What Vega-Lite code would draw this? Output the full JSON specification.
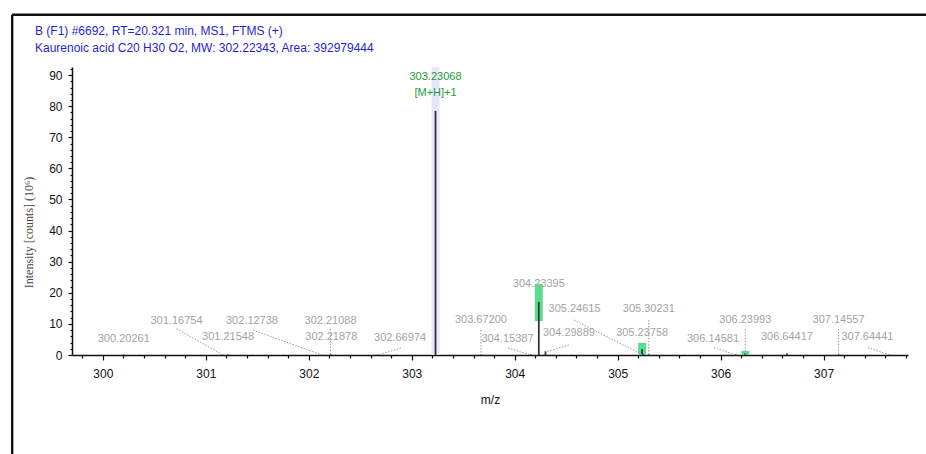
{
  "$schema": "https://vega.github.io/schema/vega-lite/v6.json",
  "width": 836,
  "height": 288,
  "autosize": {"type": "none"},
  "padding": {"left": 72, "top": 67, "right": 18, "bottom": 99},
  "background": "white",
  "title": {
    "text": ["B (F1) #6692, RT=20.321 min, MS1, FTMS (+)", "Kaurenoic acid C20 H30 O2, MW: 302.22343, Area: 392979444"],
    "anchor": "start", "frame": "group", "dx": -37, "offset": -41.5,
    "font": "Liberation Sans", "fontSize": 12, "fontWeight": "normal", "color": "#1f1fd6", "lineHeight": 17
  },
  "config": {"view": {"stroke": null}, "axis": {"grid": false}},
  "datasets": {
    "bands": [
      {"mz": 303.23068, "lo": 0, "hi": 92.6, "kind": "precursor"},
      {"mz": 304.23395, "lo": 10.9, "hi": 22.8, "kind": "isotope"},
      {"mz": 305.23758, "lo": 0, "hi": 3.9, "kind": "isotope"},
      {"mz": 306.23993, "lo": 0, "hi": 1.3, "kind": "isotope"}
    ],
    "peaks": [
      {"mz": 300.20261, "intensity": 0.1},
      {"mz": 301.16754, "intensity": 0.1},
      {"mz": 301.21548, "intensity": 0.15},
      {"mz": 302.12738, "intensity": 0.1},
      {"mz": 302.21088, "intensity": 0.2},
      {"mz": 302.21878, "intensity": 0.1},
      {"mz": 302.66974, "intensity": 0.1},
      {"mz": 303.23068, "intensity": 78.5},
      {"mz": 303.672, "intensity": 0.2},
      {"mz": 304.15387, "intensity": 0.2},
      {"mz": 304.23395, "intensity": 17.1},
      {"mz": 304.29889, "intensity": 1.2},
      {"mz": 305.23758, "intensity": 1.9},
      {"mz": 305.24615, "intensity": 0.3},
      {"mz": 305.30231, "intensity": 0.2},
      {"mz": 306.14581, "intensity": 0.2},
      {"mz": 306.23993, "intensity": 0.6},
      {"mz": 306.64417, "intensity": 0.5},
      {"mz": 307.14557, "intensity": 0.2},
      {"mz": 307.64441, "intensity": 0.1}
    ],
    "labels": [
      {"mz": 300.20261, "text": "300.20261", "lx": 300.20261, "ly": 5.1},
      {"mz": 301.16754, "text": "301.16754", "lx": 300.715, "ly": 11.0, "ax": 300.716, "ay": 8.4, "by": 0},
      {"mz": 301.21548, "text": "301.21548", "lx": 301.21548, "ly": 5.9},
      {"mz": 302.12738, "text": "302.12738", "lx": 301.448, "ly": 11.0, "ax": 301.458, "ay": 8.0, "by": 0},
      {"mz": 302.21088, "text": "302.21088", "lx": 302.21088, "ly": 11.0, "ax": 302.21088, "ay": 8.4, "by": 0},
      {"mz": 302.21878, "text": "302.21878", "lx": 302.21878, "ly": 5.9},
      {"mz": 302.66974, "text": "302.66974", "lx": 302.886, "ly": 5.5, "ax": 302.895, "ay": 2.25, "by": 0},
      {"mz": 303.672, "text": "303.67200", "lx": 303.672, "ly": 11.25, "ax": 303.672, "ay": 8.0, "by": 0},
      {"mz": 304.15387, "text": "304.15387", "lx": 303.93, "ly": 5.1, "ax": 303.935, "ay": 2.25, "by": 0},
      {"mz": 304.23395, "text": "304.23395", "lx": 304.23395, "ly": 22.8},
      {"mz": 304.29889, "text": "304.29889", "lx": 304.527, "ly": 7.2, "ax": 304.527, "ay": 3.2, "by": 1.0},
      {"mz": 305.24615, "text": "305.24615", "lx": 304.581, "ly": 14.7, "ax": 304.576, "ay": 11.25, "by": 0},
      {"mz": 305.30231, "text": "305.30231", "lx": 305.30231, "ly": 14.7, "ax": 305.30231, "ay": 11.25, "by": 0},
      {"mz": 305.23758, "text": "305.23758", "lx": 305.23758, "ly": 7.2},
      {"mz": 306.14581, "text": "306.14581", "lx": 305.926, "ly": 5.05, "ax": 305.935, "ay": 2.35, "by": 0},
      {"mz": 306.23993, "text": "306.23993", "lx": 306.23993, "ly": 11.25, "ax": 306.23993, "ay": 8.4, "by": 0},
      {"mz": 306.64417, "text": "306.64417", "lx": 306.64417, "ly": 5.9},
      {"mz": 307.14557, "text": "307.14557", "lx": 307.14557, "ly": 11.25, "ax": 307.14557, "ay": 8.4, "by": 0},
      {"mz": 307.64441, "text": "307.64441", "lx": 307.426, "ly": 5.9, "ax": 307.431, "ay": 2.35, "by": 0}
    ],
    "precursor": [
      {"mz": 303.23068, "text": "303.23068", "ly": 89.5},
      {"mz": 303.23068, "text": "[M+H]+1", "ly": 84.2}
    ],
    "frame": [
      {"left": 299.119, "right": 309, "top": 109.4, "bottom": -40}
    ]
  },
  "layer": [
    {
      "data": {"name": "bands"},
      "mark": {"type": "bar", "width": 8, "orient": "vertical"},
      "encoding": {
        "x": {"field": "mz", "type": "quantitative", "scale": {"domain": [299.7, 307.82], "nice": false, "zero": false, "padding": 0},
          "axis": {"values": [300, 301, 302, 303, 304, 305, 306, 307], "format": "d", "title": "m/z",
            "titleFont": "Liberation Sans", "titleFontSize": 12, "titleFontWeight": "normal", "titleColor": "#111",
            "titleY": 44, "titleBaseline": "middle",
            "labelFont": "Liberation Sans", "labelFontSize": 12, "labelColor": "#111", "labelPadding": 8,
            "tickSize": 5, "tickColor": "#111", "tickWidth": 1.2, "domainColor": "#111", "domainWidth": 1.5}},
        "y": {"field": "hi", "type": "quantitative", "scale": {"domain": [0, 92.6], "nice": false, "padding": 0},
          "axis": {"values": [0, 10, 20, 30, 40, 50, 60, 70, 80, 90], "title": "Intensity [counts] (10⁶)",
            "titleFont": "Liberation Serif", "titleFontSize": 12, "titleFontWeight": "normal", "titleColor": "#444",
            "titleX": -44, "titleY": 165, "titleAngle": -90, "titleAlign": "center", "titleBaseline": "middle",
            "labelFont": "Liberation Sans", "labelFontSize": 12, "labelColor": "#111", "labelPadding": 6,
            "tickSize": 4, "tickColor": "#111", "tickWidth": 1.2, "domainColor": "#111", "domainWidth": 1.5}},
        "y2": {"field": "lo"},
        "color": {"field": "kind", "type": "nominal", "scale": {"domain": ["precursor", "isotope"], "range": ["#e7e7fb", "#5ade8c"]}, "legend": null}
      }
    },
    {
      "data": {"name": "peaks"},
      "mark": {"type": "rule", "color": "#34343f", "strokeWidth": 1.8},
      "encoding": {
        "x": {"field": "mz", "type": "quantitative", "scale": {"domain": [299.7, 307.82], "nice": false, "zero": false, "padding": 0},
          "axis": {"orient": "bottom", "values": [299.8, 300.2, 300.4, 300.6, 300.8, 301.2, 301.4, 301.6, 301.8, 302.2, 302.4, 302.6, 302.8, 303.2, 303.4, 303.6, 303.8, 304.2, 304.4, 304.6, 304.8, 305.2, 305.4, 305.6, 305.8, 306.2, 306.4, 306.6, 306.8, 307.2, 307.4, 307.6, 307.8],
            "labels": false, "domain": false, "title": null, "tickSize": 3, "tickColor": "#111", "tickWidth": 1.2}},
        "y": {"field": "intensity", "type": "quantitative", "scale": {"domain": [0, 92.6], "nice": false, "padding": 0},
          "axis": {"orient": "left", "values": [2, 4, 6, 8, 12, 14, 16, 18, 22, 24, 26, 28, 32, 34, 36, 38, 42, 44, 46, 48, 52, 54, 56, 58, 62, 64, 66, 68, 72, 74, 76, 78, 82, 84, 86, 88, 92],
            "labels": false, "domain": false, "title": null, "tickSize": 2, "tickColor": "#111", "tickWidth": 1.2}},
        "y2": {"datum": 0}
      }
    },
    {
      "data": {"name": "labels"},
      "transform": [{"filter": {"field": "ax", "valid": true}}],
      "mark": {"type": "rule", "color": "#9a9a9a", "strokeWidth": 1, "strokeDash": [1.5, 1.5]},
      "encoding": {
        "x": {"field": "ax", "type": "quantitative", "scale": {"domain": [299.7, 307.82], "nice": false, "zero": false, "padding": 0}, "axis": null},
        "y": {"field": "ay", "type": "quantitative", "scale": {"domain": [0, 92.6], "nice": false, "padding": 0}, "axis": null},
        "x2": {"field": "mz"},
        "y2": {"field": "by"}
      }
    },
    {
      "data": {"name": "labels"},
      "mark": {"type": "text", "font": "Liberation Sans", "fontSize": 11, "color": "#a3a3a3", "align": "center", "baseline": "middle"},
      "encoding": {
        "x": {"field": "lx", "type": "quantitative", "scale": {"domain": [299.7, 307.82], "nice": false, "zero": false, "padding": 0}, "axis": null},
        "y": {"field": "ly", "type": "quantitative", "scale": {"domain": [0, 92.6], "nice": false, "padding": 0}, "axis": null},
        "text": {"field": "text"}
      }
    },
    {
      "data": {"name": "precursor"},
      "mark": {"type": "text", "font": "Liberation Sans", "fontSize": 11, "color": "#1b9a3a", "align": "center", "baseline": "middle"},
      "encoding": {
        "x": {"field": "mz", "type": "quantitative", "scale": {"domain": [299.7, 307.82], "nice": false, "zero": false, "padding": 0}, "axis": null},
        "y": {"field": "ly", "type": "quantitative", "scale": {"domain": [0, 92.6], "nice": false, "padding": 0}, "axis": null},
        "text": {"field": "text"}
      }
    },
    {
      "data": {"name": "frame"},
      "mark": {"type": "rule", "color": "#111", "strokeWidth": 2.4},
      "encoding": {
        "x": {"field": "left", "type": "quantitative", "scale": {"domain": [299.7, 307.82], "nice": false, "zero": false, "padding": 0}, "axis": null},
        "x2": {"field": "right"},
        "y": {"field": "top", "type": "quantitative", "scale": {"domain": [0, 92.6], "nice": false, "padding": 0}, "axis": null}
      }
    },
    {
      "data": {"name": "frame"},
      "mark": {"type": "rule", "color": "#111", "strokeWidth": 2.4},
      "encoding": {
        "x": {"field": "left", "type": "quantitative", "scale": {"domain": [299.7, 307.82], "nice": false, "zero": false, "padding": 0}, "axis": null},
        "y": {"field": "top", "type": "quantitative", "scale": {"domain": [0, 92.6], "nice": false, "padding": 0}, "axis": null},
        "y2": {"field": "bottom"}
      }
    }
  ],
  "resolve": {"axis": {"x": "independent", "y": "independent"}}
}
